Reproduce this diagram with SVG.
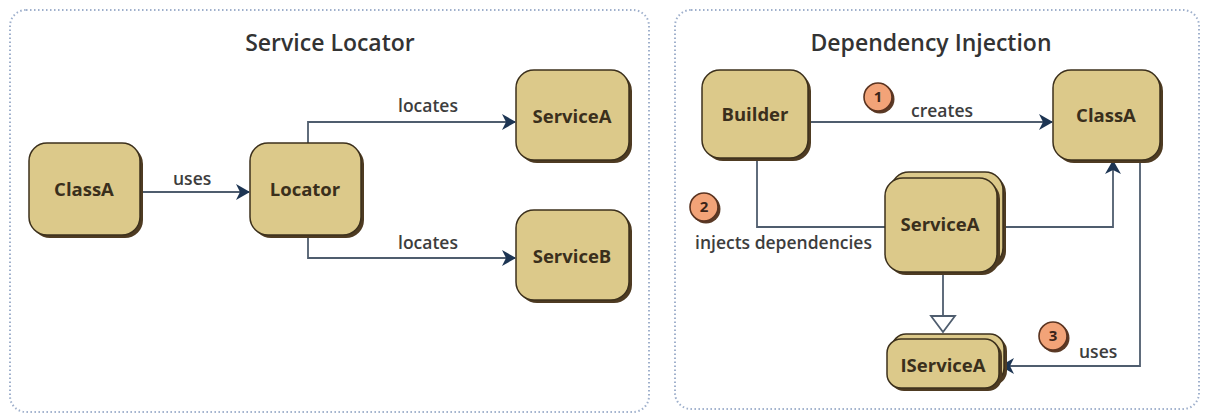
<svg xmlns="http://www.w3.org/2000/svg" width="1205" height="416" viewBox="0 0 1205 416">
<defs>
<style>
.panel{fill:#fff;stroke:#9fb0cc;stroke-width:2;stroke-dasharray:1.5 2.5}
.title{font-family:"Open Sans","Liberation Sans",sans-serif;font-weight:600;font-size:23px;fill:#333;text-anchor:middle}
.shadow{fill:#4e3b22}
.box{fill:#dcc98a;stroke:#3c301c;stroke-width:1.5}
.lbl{font-family:"Open Sans","Liberation Sans",sans-serif;font-weight:700;font-size:18.5px;fill:#3a2f1c;text-anchor:middle}
.edge{fill:none;stroke:#4f5d6e;stroke-width:1.8}
.elbl{font-family:"Open Sans","Liberation Sans",sans-serif;font-weight:600;font-size:17.5px;fill:#3d3d3d}
.num{fill:#f2a378;stroke:#5a3320;stroke-width:1.6}
.numsh{fill:#5a3a26}
.numt{font-family:"Open Sans","Liberation Sans",sans-serif;font-weight:700;font-size:15px;fill:#3a2418;text-anchor:middle}
</style>
<marker id="arr" viewBox="0 0 14 16" refX="13" refY="8" markerWidth="14" markerHeight="16" markerUnits="userSpaceOnUse" orient="auto">
<path d="M0,0 L14,8 L0,16 L4,8 z" fill="#1d3553"/>
</marker>
</defs>

<rect class="panel" x="10" y="10" width="639" height="402" rx="16"/>
<rect class="panel" x="675" y="10" width="524" height="399" rx="16"/>
<text class="title" x="330" y="51">Service Locator</text>
<text class="title" x="931" y="51">Dependency Injection</text>

<g id="connectors">
<path class="edge" d="M140,192 H249" marker-end="url(#arr)"/>
<text class="elbl" x="173" y="185">uses</text>
<path class="edge" d="M308,143 V122 H515" marker-end="url(#arr)"/>
<text class="elbl" x="398" y="112">locates</text>
<path class="edge" d="M308,235 V258 H515" marker-end="url(#arr)"/>
<text class="elbl" x="398" y="249">locates</text>

<path class="edge" d="M808,122 H1052" marker-end="url(#arr)"/>
<text class="elbl" x="911" y="117">creates</text>
<path class="edge" d="M757,158 V227 H885"/>
<path class="edge" d="M997,227 H1113 V161" marker-end="url(#arr)"/>
<text class="elbl" x="695" y="249">injects dependencies</text>
<path class="edge" d="M943,272 V316"/>
<path d="M931,316 L955,316 L943,332 z" fill="#fff" stroke="#4f5d6e" stroke-width="1.8"/>
<path class="edge" d="M1140,160 V366 H1001" marker-end="url(#arr)"/>
<text class="elbl" x="1079" y="358">uses</text>
</g>

<g id="n1"><circle class="numsh" cx="880" cy="99" r="14.5"/><circle class="num" cx="878" cy="97" r="14"/><text class="numt" x="878" y="102">1</text></g>
<g id="n2"><circle class="numsh" cx="706" cy="209" r="14.5"/><circle class="num" cx="704" cy="207" r="14"/><text class="numt" x="704" y="212">2</text></g>
<g id="n3"><circle class="numsh" cx="1055" cy="338" r="14.5"/><circle class="num" cx="1053" cy="336" r="14"/><text class="numt" x="1053" y="341">3</text></g>

<g id="classA-left">
<rect class="shadow" x="32" y="146" width="111" height="92" rx="18"/>
<rect class="box" x="29" y="143" width="111" height="92" rx="18"/>
<text class="lbl" x="84" y="196">ClassA</text>
</g>
<g id="locator">
<rect class="shadow" x="253" y="146" width="111" height="92" rx="18"/>
<rect class="box" x="250" y="143" width="111" height="92" rx="18"/>
<text class="lbl" x="305" y="196">Locator</text>
</g>
<g id="serviceA-left">
<rect class="shadow" x="519" y="73" width="113" height="90" rx="18"/>
<rect class="box" x="516" y="70" width="113" height="90" rx="18"/>
<text class="lbl" x="572" y="123">ServiceA</text>
</g>
<g id="serviceB">
<rect class="shadow" x="519" y="213" width="113" height="90" rx="18"/>
<rect class="box" x="516" y="210" width="113" height="90" rx="18"/>
<text class="lbl" x="572" y="263">ServiceB</text>
</g>

<g id="builder">
<rect class="shadow" x="705" y="73" width="106" height="88" rx="18"/>
<rect class="box" x="702" y="70" width="106" height="88" rx="18"/>
<text class="lbl" x="755" y="121">Builder</text>
</g>
<g id="classA-right">
<rect class="shadow" x="1056" y="73" width="107" height="90" rx="18"/>
<rect class="box" x="1053" y="70" width="107" height="90" rx="18"/>
<text class="lbl" x="1106" y="122">ClassA</text>
</g>
<g id="serviceA-right">
<rect class="shadow" x="894" y="175" width="112" height="94" rx="18"/>
<rect class="box" x="891" y="172" width="112" height="94" rx="18"/>
<rect class="shadow" x="888" y="181" width="112" height="94" rx="18"/>
<rect class="box" x="885" y="178" width="112" height="94" rx="18"/>
<text class="lbl" x="940" y="231">ServiceA</text>
</g>
<g id="iserviceA">
<rect class="shadow" x="895" y="337" width="112" height="48" rx="14"/>
<rect class="box" x="892" y="334" width="112" height="48" rx="14"/>
<rect class="shadow" x="890" y="342" width="112" height="49" rx="14"/>
<rect class="box" x="887" y="339" width="112" height="49" rx="14"/>
<text class="lbl" x="943" y="372">IServiceA</text>
</g>
</svg>
